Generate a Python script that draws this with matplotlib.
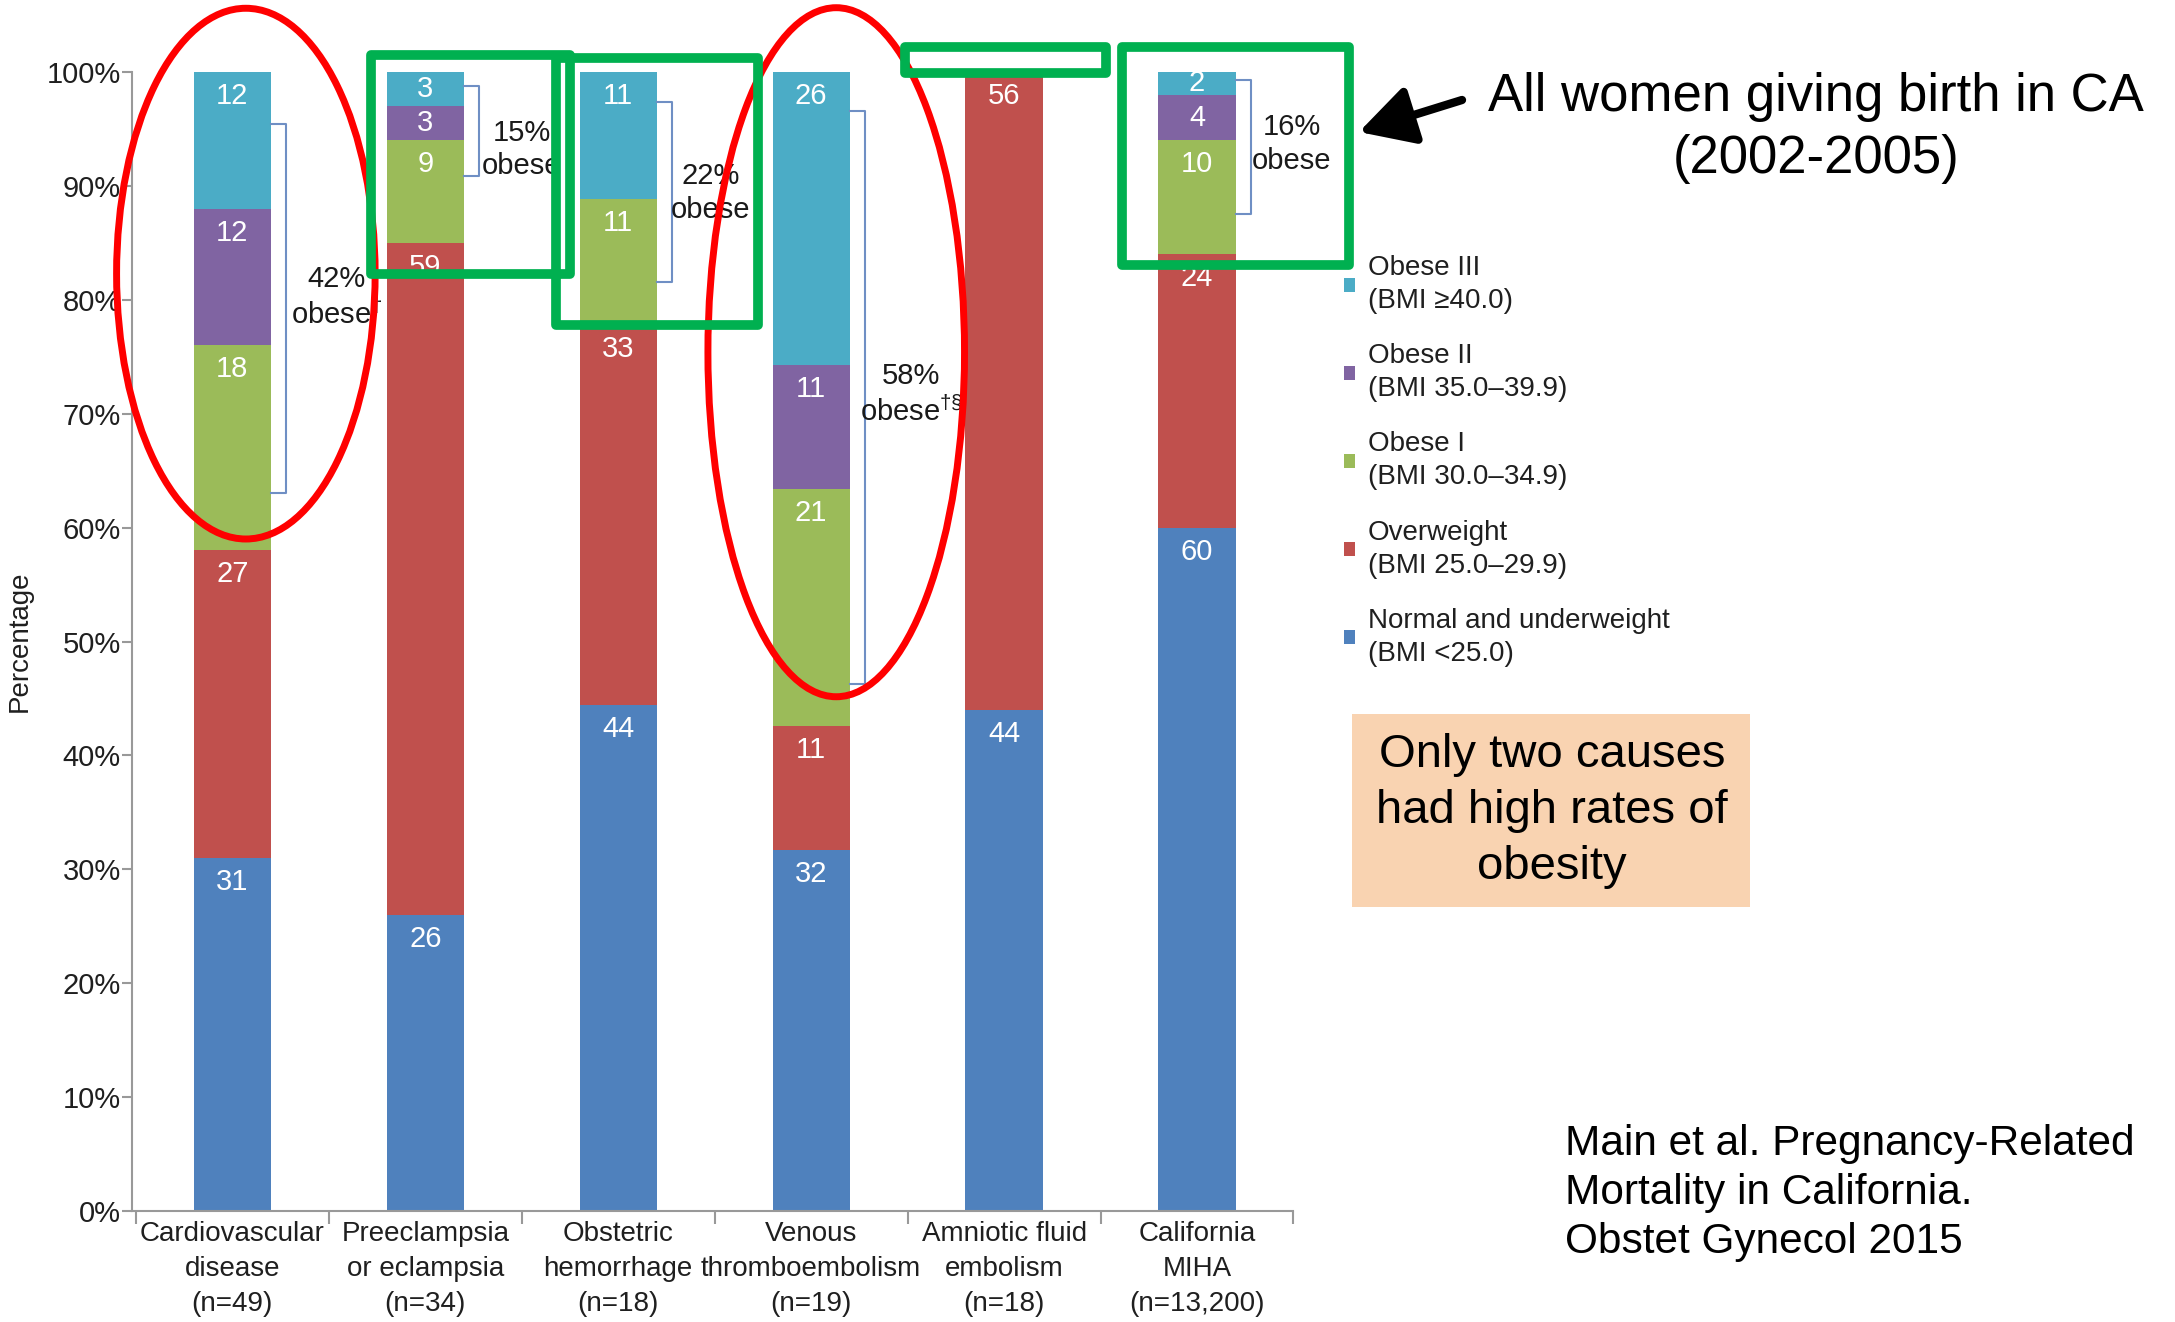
import matplotlib.pyplot as plt
import numpy as np
from matplotlib.patches import Ellipse, Rectangle

plt.rcParams['font.family'] = ['Liberation Sans', 'DejaVu Sans']
plt.rcParams['mathtext.fontset'] = 'custom'
plt.rcParams['mathtext.rm'] = 'Liberation Sans'
plt.rcParams['mathtext.it'] = 'Liberation Sans'

# BMI category shares (%) by cause of pregnancy-related death
categories = ['Cardiovascular\ndisease\n(n=49)', 'Preeclampsia\nor eclampsia\n(n=34)',
              'Obstetric\nhemorrhage\n(n=18)', 'Venous\nthromboembolism\n(n=19)',
              'Amniotic fluid\nembolism\n(n=18)', 'California\nMIHA\n(n=13,200)']
normal = [31, 26, 44, 32, 44, 60]
overweight = [27, 59, 33, 11, 56, 24]
obese1 = [18, 9, 11, 21, 0, 10]
obese2 = [12, 3, 0, 11, 0, 4]
obese3 = [12, 3, 11, 26, 0, 2]
obese_total = ['42%\nobese$^{†}$', '15%\nobese', '22%\nobese', '58%\nobese$^{†§}$', None, '16%\nobese']

series = [normal, overweight, obese1, obese2, obese3]
names = ['Normal and underweight\n(BMI <25.0)', 'Overweight\n(BMI 25.0–29.9)',
         'Obese I\n(BMI 30.0–34.9)', 'Obese II\n(BMI 35.0–39.9)', 'Obese III\n(BMI ≥40.0)']
colors = ['#4F81BD', '#C0504D', '#9BBB59', '#8064A2', '#4BACC6']

# bracket spans next to each bar (top, bottom), label position
brackets = [(95.4, 63.0), (98.8, 90.9), (97.4, 81.6), (96.6, 46.3), None, (99.3, 87.5)]
bracket_text = [(0.54, 80.2), (1.50, 93.2), (2.48, 89.4), (3.52, 71.7), None, (5.49, 93.7)]

fig = plt.figure(figsize=(21.75, 13.22), dpi=100)
ax = fig.add_axes([0.0607, 0.084, 0.534, 0.8615])

x = np.arange(len(categories))
data = np.array(series, dtype=float)
totals = data.sum(axis=0)
shares = data / totals * 100
bottom = np.zeros(len(categories))
for vals, sh, col, name in zip(data, shares, colors, names):
    ax.bar(x, sh, width=0.4, bottom=bottom, color=col, label=name, zorder=2)
    for xi, v, s, b in zip(x, vals, sh, bottom):
        if v > 0:
            off = min(2.1, s / 2)
            ax.text(xi, b + s - off, f'{int(v)}', ha='center', va='center',
                    color='white', fontsize=21, zorder=3)
    bottom += sh

# obesity brackets
for xi, br, tp, lab in zip(x, brackets, bracket_text, obese_total):
    if br is None:
        continue
    top, bot = br
    ax.plot([xi + 0.2, xi + 0.28, xi + 0.28, xi + 0.2], [top, top, bot, bot],
            color='#6F8FC4', lw=1.5, clip_on=False, zorder=2)
    ax.text(tp[0], tp[1], lab, ha='center', va='center', fontsize=21,
            color='#1a1a1a', linespacing=1.25, zorder=3)

ax.set_xlim(-0.52, 5.5)
ax.set_ylim(0, 100)
ax.set_yticks(np.arange(0, 101, 10))
ax.set_yticklabels([f'{v}%' for v in range(0, 101, 10)])
ax.set_xticks(x)
ax.set_xticklabels(categories, linespacing=1.45)
ax.set_xticks(np.arange(-0.5, 6, 1), minor=True)
ax.tick_params(axis='x', which='major', length=0, labelsize=20, labelcolor='#1f1f1f', pad=7)
ax.tick_params(axis='x', which='minor', length=9, color='#999999', width=1.5)
ax.tick_params(axis='y', length=7, color='#999999', width=1.5, labelsize=21,
               labelcolor='#1f1f1f', pad=1)
for s in ['top', 'right']:
    ax.spines[s].set_visible(False)
for s in ['left', 'bottom']:
    ax.spines[s].set_color('#999999')
    ax.spines[s].set_linewidth(1.5)
ax.set_ylabel('Percentage', fontsize=20, color='#1f1f1f', labelpad=10)

handles, labels = ax.get_legend_handles_labels()
leg = ax.legend(handles[::-1], labels[::-1], loc='upper left', bbox_to_anchor=(0.6065, 0.826),
                bbox_transform=fig.transFigure, frameon=False, fontsize=20,
                handlelength=0.4, handleheight=0.4, handletextpad=0.45, labelspacing=1.05,
                labelcolor='#1f1f1f')
for t in leg.get_texts():
    t.set_linespacing(1.35)

# highlight shapes
for cx, cy, w, h in [(0.07, 82.3, 1.34, 46.6), (3.13, 75.4, 1.33, 60.5)]:
    ax.add_patch(Ellipse((cx, cy), w, h, fill=False, ec='#FF0000', lw=5,
                         clip_on=False, zorder=5))
for x0, x1, y0, y1 in [(0.717, 1.749, 82.3, 101.5), (1.677, 2.724, 77.8, 101.2),
                       (3.484, 4.53, 99.9, 102.2), (4.61, 5.79, 83.1, 102.2)]:
    ax.add_patch(Rectangle((x0, y0), x1 - x0, y1 - y0, fill=False, ec='#00B050',
                           lw=7, clip_on=False, zorder=6, joinstyle='round'))

fig.text(0.835, 0.903, 'All women giving birth in CA\n(2002-2005)', ha='center',
         va='center', fontsize=38, linespacing=1.3)
ax.annotate('', xy=(1359, 1190), xycoords='figure pixels', xytext=(1462, 1222),
            textcoords='figure pixels',
            arrowprops=dict(arrowstyle='-|>,head_length=1.1,head_width=0.6',
                            color='black', lw=6, mutation_scale=30, shrinkA=0, shrinkB=0))

fig.patches.append(Rectangle((0.6216, 0.314), 0.183, 0.146, transform=fig.transFigure,
                             facecolor='#F9D3B1', edgecolor='none'))
fig.text(0.7136, 0.3865, 'Only two causes\nhad high rates of\nobesity', ha='center',
         va='center', fontsize=34, linespacing=1.35)

fig.text(0.7195, 0.0976, 'Main et al. Pregnancy-Related\nMortality in California.\nObstet Gynecol 2015',
         ha='left', va='center', fontsize=30.5, linespacing=1.3)

fig.savefig('out.png', dpi=100)
